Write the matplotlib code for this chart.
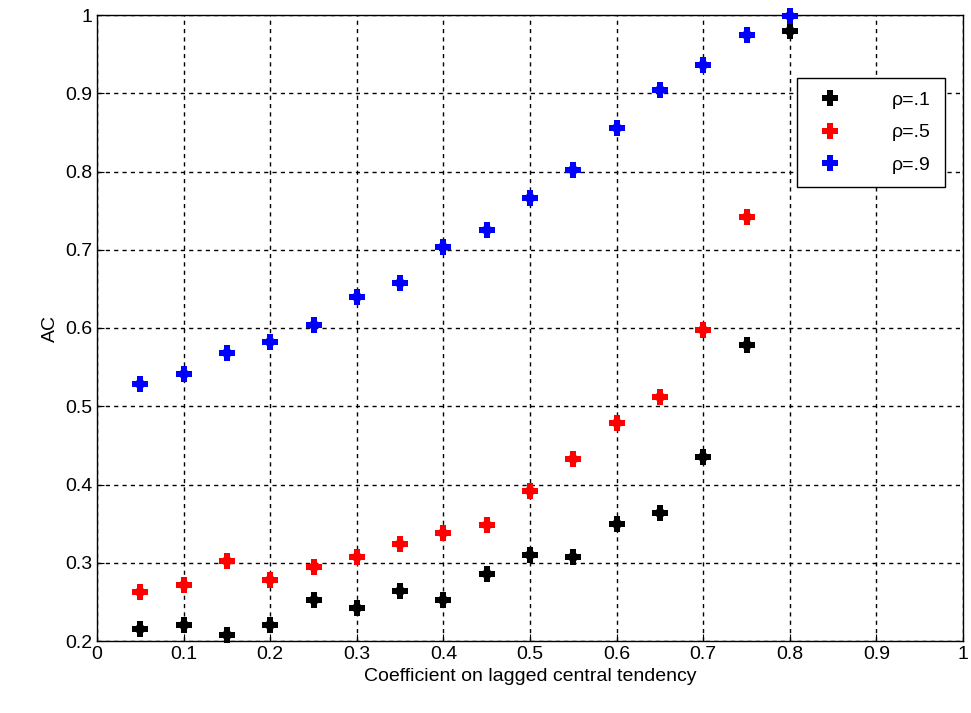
import matplotlib.pyplot as plt
import numpy as np

x = np.arange(1, 17) * 0.05
rho_1 = [0.215, 0.220, 0.208, 0.220, 0.252, 0.242, 0.264, 0.252, 0.285, 0.310,
         0.307, 0.350, 0.363, 0.435, 0.578, 0.980]
rho_5 = [0.263, 0.271, 0.302, 0.278, 0.295, 0.307, 0.324, 0.338, 0.348, 0.392,
         0.432, 0.478, 0.512, 0.598, 0.742]
rho_9 = [0.528, 0.541, 0.568, 0.582, 0.604, 0.640, 0.657, 0.703, 0.725, 0.766,
         0.802, 0.855, 0.904, 0.936, 0.975, 0.999]

plt.rcParams["font.family"] = ["Liberation Sans", "DejaVu Sans"]
fig = plt.figure(figsize=(9.71, 7.13), dpi=100)
ax = fig.add_axes([97 / 971, 1 - 641 / 713, 866 / 971, 626 / 713])

for ys, color, label in [(rho_1, "black", "ρ=.1"), (rho_5, "red", "ρ=.5"), (rho_9, "blue", "ρ=.9")]:
    ax.plot(x[:len(ys)], ys, linestyle="none", marker="P", markersize=11,
            color=color, markeredgewidth=0, label=label, clip_on=False, zorder=3)
    ax.plot(x[:len(ys)], ys, linestyle="none", marker="D", markersize=7,
            color=color, markeredgewidth=0, clip_on=False, zorder=3)

ax.set_xlim(0, 1)
ax.set_ylim(0.2, 1)
ax.set_xticks(np.arange(0, 1.01, 0.1))
ax.set_xticklabels(["0", "0.1", "0.2", "0.3", "0.4", "0.5", "0.6", "0.7", "0.8", "0.9", "1"])
ax.set_yticks(np.arange(0.2, 1.01, 0.1))
ax.set_yticklabels(["0.2", "0.3", "0.4", "0.5", "0.6", "0.7", "0.8", "0.9", "1"])
ax.tick_params(labelsize=14, direction="in", length=5)
ax.grid(True, color="black", linestyle=(0, (3, 3)), linewidth=1.0)
for s in ax.spines.values():
    s.set_linewidth(1.0)
ax.set_xlabel("Coefficient on lagged central tendency", fontsize=14)
ax.set_ylabel("AC", fontsize=14)
leg = ax.legend(loc="upper right", bbox_to_anchor=(0.99, 0.915), fontsize=14,
                fancybox=False, framealpha=1, edgecolor="black", borderpad=0.7,
                labelspacing=0.75, handletextpad=2.2)
leg.get_frame().set_linewidth(1.0)

fig.savefig("out.png", dpi=100, facecolor="white")
